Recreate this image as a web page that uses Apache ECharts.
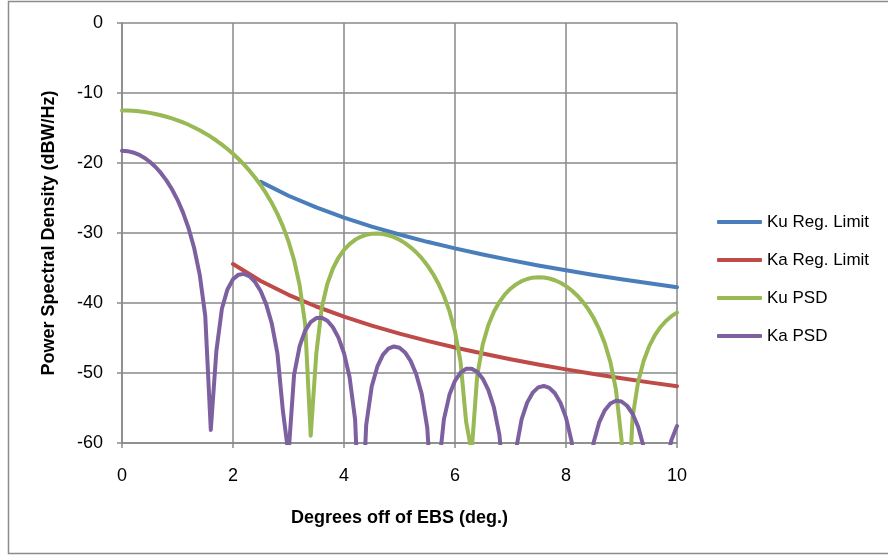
<!DOCTYPE html>
<html>
<head>
<meta charset="utf-8">
<script src="https://cdn.jsdelivr.net/npm/echarts@6/dist/echarts.min.js"></script>
<style>
  html, body { margin: 0; padding: 0; background: #fff; }
  #chart { width: 888px; height: 556px; }
</style>
</head>
<body>
<div id="chart"></div>
<script>
// degrees off EBS, sampled every 0.1 deg
var psdDeg = [0, 0.1, 0.2, 0.3, 0.4, 0.5, 0.6, 0.7, 0.8, 0.9,
  1, 1.1, 1.2, 1.3, 1.4, 1.5, 1.6, 1.7, 1.8, 1.9,
  2, 2.1, 2.2, 2.3, 2.4, 2.5, 2.6, 2.7, 2.8, 2.9,
  3, 3.1, 3.2, 3.3, 3.4, 3.5, 3.6, 3.7, 3.8, 3.9,
  4, 4.1, 4.2, 4.3, 4.4, 4.5, 4.6, 4.7, 4.8, 4.9,
  5, 5.1, 5.2, 5.3, 5.4, 5.5, 5.6, 5.7, 5.8, 5.9,
  6, 6.1, 6.2, 6.3, 6.4, 6.5, 6.6, 6.7, 6.8, 6.9,
  7, 7.1, 7.2, 7.3, 7.4, 7.5, 7.6, 7.7, 7.8, 7.9,
  8, 8.1, 8.2, 8.3, 8.4, 8.5, 8.6, 8.7, 8.8, 8.9,
  9, 9.1, 9.2, 9.3, 9.4, 9.5, 9.6, 9.7, 9.8, 9.9, 10];

var kuPsd = [-12.50, -12.51, -12.55, -12.62, -12.72, -12.84, -13.00, -13.18, -13.39, -13.63,
  -13.90, -14.20, -14.54, -14.92, -15.32, -15.77, -16.26, -16.79, -17.37, -18.00,
  -18.68, -19.43, -20.24, -21.13, -22.10, -23.18, -24.38, -25.73, -27.27, -29.06,
  -31.19, -33.85, -37.43, -43.03, -58.96, -47.30, -40.65, -37.26, -35.07, -33.54,
  -32.42, -31.58, -30.97, -30.55, -30.26, -30.10, -30.07, -30.14, -30.32, -30.59,
  -30.97, -31.45, -32.04, -32.75, -33.59, -34.60, -35.79, -37.22, -38.97, -41.16,
  -44.07, -48.40, -56.95, -61.27, -50.37, -45.91, -43.17, -41.26, -39.85, -38.77,
  -37.96, -37.34, -36.88, -36.57, -36.38, -36.31, -36.35, -36.50, -36.75, -37.11,
  -37.59, -38.18, -38.92, -39.81, -40.88, -42.18, -43.78, -45.79, -48.45, -52.38,
  -59.49, -71.80, -56.33, -51.25, -48.24, -46.16, -44.63, -43.46, -42.57, -41.88, -41.37];

var kaPsd = [-18.25, -18.31, -18.49, -18.80, -19.24, -19.82, -20.54, -21.42, -22.48, -23.75,
  -25.26, -27.09, -29.32, -32.14, -35.94, -41.84, -58.14, -46.90, -40.82, -38.06,
  -36.61, -35.95, -35.84, -36.21, -37.03, -38.33, -40.23, -42.97, -47.18, -55.48,
  -61.66, -50.31, -46.18, -43.95, -42.72, -42.15, -42.10, -42.54, -43.46, -44.94,
  -47.16, -50.58, -56.64, -75.00, -57.43, -51.91, -49.10, -47.40, -46.52, -46.21,
  -46.39, -47.06, -48.27, -50.14, -52.97, -57.80, -70.00, -64.14, -56.62, -53.12,
  -51.11, -49.95, -49.41, -49.38, -49.84, -50.81, -52.40, -54.87, -58.84, -67.07,
  -72.07, -60.93, -56.64, -54.23, -52.81, -52.06, -51.85, -52.12, -52.90, -54.25,
  -56.38, -59.76, -66.04, -80.00, -65.20, -59.86, -57.01, -55.31, -54.36, -53.97,
  -54.07, -54.68, -55.82, -57.68, -60.59, -65.57, -80.00, -69.82, -62.95, -59.57, -57.58];

// regulatory limits
var kuLimDeg = [2.5, 3, 3.5, 4, 4.5, 5, 5.5, 6, 6.5, 7, 7.5, 8, 8.5, 9, 9.5, 10];
var kuLim = [-22.70, -24.68, -26.35, -27.80, -29.08, -30.22, -31.26, -32.20,
  -33.07, -33.88, -34.63, -35.33, -35.99, -36.61, -37.19, -37.75];
var kaLimDeg = [2, 2.5, 3, 3.5, 4, 4.5, 5, 5.5, 6, 6.5, 7, 7.5, 8, 8.5, 9, 9.5, 10];
var kaLim = [-34.43, -36.85, -38.83, -40.50, -41.95, -43.23, -44.37, -45.41, -46.35,
  -47.22, -48.03, -48.78, -49.48, -50.14, -50.76, -51.34, -51.90];

var xTicks = [0, 2, 4, 6, 8, 10];
var yTicks = [0, -10, -20, -30, -40, -50, -60];

function pairs(xs, ys) {
  return xs.map(function (x, i) { return [x, ys[i]]; });
}

var gridGray = '#898989';
var font = 'Liberation Sans';

function lineSeries(name, color, xs, ys) {
  return {
    name: name,
    type: 'line',
    data: pairs(xs, ys),
    symbol: 'none',
    showSymbol: false,
    clip: true,
    lineStyle: { color: color, width: 4, cap: 'round', join: 'round' },
    itemStyle: { color: color }
  };
}

var myChart = echarts.init(document.getElementById('chart'), null, { renderer: 'canvas' });

myChart.setOption({
  animation: false,
  backgroundColor: '#fff',
  textStyle: { fontFamily: font },
  grid: { left: 122, right: 211, top: 23, bottom: 113, containLabel: false },
  xAxis: {
    type: 'value',
    min: xTicks[0],
    max: xTicks[xTicks.length - 1],
    interval: 2,
    name: 'Degrees off of EBS (deg.)',
    nameLocation: 'middle',
    nameGap: 66,
    nameTextStyle: { fontSize: 18, fontWeight: 'bold', color: '#000', fontFamily: font },
    axisLine: { show: true, onZero: false, lineStyle: { color: gridGray, width: 1.5 } },
    axisTick: { show: true, inside: false, length: 5, lineStyle: { color: gridGray, width: 1.5 } },
    axisLabel: { fontSize: 18, color: '#000', margin: 24, fontFamily: font },
    splitLine: { show: true, lineStyle: { color: gridGray, width: 1.5 } }
  },
  yAxis: {
    type: 'value',
    min: yTicks[yTicks.length - 1],
    max: yTicks[0],
    interval: 10,
    name: 'Power Spectral Density (dBW/Hz)',
    nameLocation: 'middle',
    nameRotate: 90,
    nameGap: 64,
    nameTextStyle: { fontSize: 18, fontWeight: 'bold', color: '#000', fontFamily: font },
    axisLine: { show: true, onZero: false, lineStyle: { color: gridGray, width: 1.5 } },
    axisTick: { show: true, inside: false, length: 5, lineStyle: { color: gridGray, width: 1.5 } },
    axisLabel: { fontSize: 18, color: '#000', margin: 19, fontFamily: font },
    splitLine: { show: true, lineStyle: { color: gridGray, width: 1.5 } }
  },
  legend: {
    orient: 'vertical',
    left: 717,
    top: 213.5,
    padding: 0,
    itemWidth: 45,
    itemHeight: 4,
    itemGap: 21,
    icon: 'roundRect',
    textStyle: { fontSize: 17, color: '#000', fontFamily: font },
    data: ['Ku Reg. Limit', 'Ka Reg. Limit', 'Ku PSD', 'Ka PSD']
  },
  graphic: [{
    type: 'rect',
    shape: { x: 8.5, y: 1.5, width: 884, height: 552 },
    style: { fill: null, stroke: '#8c8c8c', lineWidth: 1.5 },
    silent: true,
    z: -1
  }],
  series: [
    lineSeries('Ku Reg. Limit', '#4A7EBB', kuLimDeg, kuLim),
    lineSeries('Ka Reg. Limit', '#BE4B48', kaLimDeg, kaLim),
    lineSeries('Ku PSD', '#98B954', psdDeg, kuPsd),
    lineSeries('Ka PSD', '#7D60A0', psdDeg, kaPsd)
  ]
});
</script>
</body>
</html>
